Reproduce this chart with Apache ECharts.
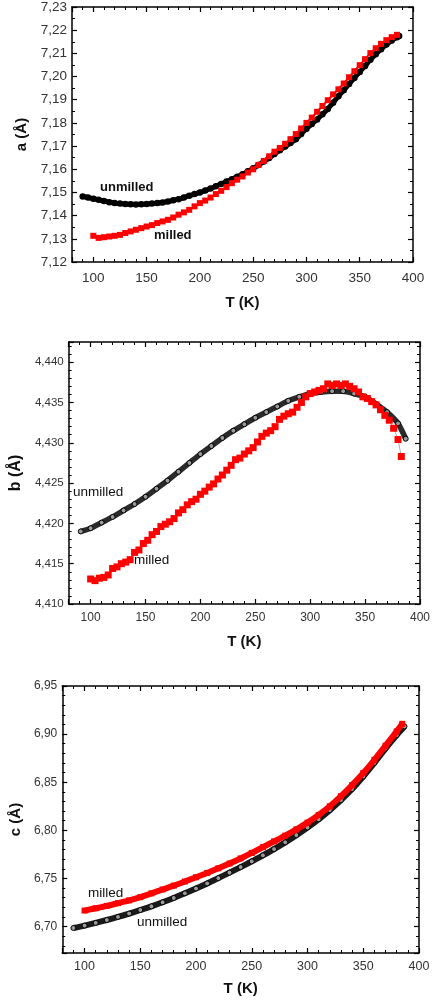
<!DOCTYPE html>
<html>
<head>
<meta charset="utf-8">
<script src="https://cdn.jsdelivr.net/npm/echarts@6/dist/echarts.min.js"></script>
<style>
html,body{margin:0;padding:0;background:#fff;}
#chart{width:433px;height:1000px;}
</style>
</head>
<body>
<div id="chart"></div>
<script>
// ---- Data ----
const T_a_unmilled = [90,95,100,105,110,115,120,125,130,135,140,145,150,155,160,165,170,175,180,185,190,195,200,205,210,215,220,225,230,235,240,245,250,255,260,265,270,275,280,285,290,295,300,305,310,315,320,325,330,335,340,345,350,355,360,365,370,375,380,385,387];
const a_unmilled = [7.1483,7.1478,7.1473,7.1468,7.1463,7.1458,7.1454,7.1452,7.1450,7.1449,7.1448,7.1449,7.1450,7.1452,7.1454,7.1457,7.1461,7.1466,7.1471,7.1478,7.1486,7.1493,7.1500,7.1508,7.1517,7.1527,7.1537,7.1547,7.1557,7.1568,7.1579,7.1591,7.1604,7.1618,7.1633,7.1649,7.1666,7.1682,7.1698,7.1713,7.1729,7.1752,7.1775,7.1795,7.1815,7.1837,7.1860,7.1887,7.1915,7.1941,7.1968,7.1994,7.2020,7.2046,7.2072,7.2096,7.2118,7.2138,7.2155,7.2170,7.2175];

const T_a_milled = [100,105,110,115,120,125,130,135,140,145,150,155,160,165,170,175,180,185,190,195,200,205,210,215,220,225,230,235,240,245,250,255,260,265,270,275,280,285,290,295,300,305,310,315,320,325,330,335,340,345,350,355,360,365,370,375,380,385];
const a_milled = [7.1313,7.1304,7.1307,7.1310,7.1313,7.1317,7.1325,7.1332,7.1339,7.1346,7.1353,7.1359,7.1368,7.1375,7.1382,7.1392,7.1404,7.1414,7.1425,7.1440,7.1454,7.1465,7.1478,7.1493,7.1507,7.1523,7.1540,7.1555,7.1569,7.1586,7.1600,7.1619,7.1636,7.1656,7.1676,7.1692,7.1710,7.1730,7.1752,7.1776,7.1800,7.1823,7.1848,7.1873,7.1898,7.1923,7.1945,7.1970,7.1997,7.2023,7.2049,7.2075,7.2101,7.2122,7.2141,7.2157,7.2170,7.2180];

const T_b_unmilled = [91,100,110,120,130,140,150,160,170,180,190,200,210,220,230,240,250,260,270,280,290,300,310,320,330,340,350,360,370,380,387];
const b_unmilled = [4.4190,4.4194,4.4201,4.4208,4.4216,4.4224,4.4233,4.4243,4.4253,4.4264,4.4275,4.4286,4.4296,4.4306,4.4315,4.4323,4.4331,4.4338,4.4345,4.4352,4.4357,4.4361,4.4363,4.4364,4.4364,4.4361,4.4357,4.4348,4.4338,4.4324,4.4305];

const T_b_milled = [100,104,108,112,116,120,124,128,132,136,140,144,148,152,156,160,164,168,172,176,180,184,188,192,196,200,204,208,212,216,220,224,228,232,236,240,244,248,252,256,260,264,268,272,276,280,284,288,292,296,300,304,308,312,316,320,324,328,332,336,340,344,348,352,356,360,364,368,372,376,380,383];
const b_milled = [4.4131,4.4129,4.4132,4.4133,4.4136,4.4144,4.4146,4.4150,4.4152,4.4155,4.4164,4.4167,4.4175,4.4179,4.4186,4.4190,4.4196,4.4199,4.4202,4.4206,4.4213,4.4217,4.4223,4.4227,4.4230,4.4236,4.4240,4.4245,4.4249,4.4255,4.4260,4.4266,4.4272,4.4279,4.4281,4.4286,4.4290,4.4294,4.4301,4.4308,4.4312,4.4315,4.4320,4.4329,4.4333,4.4336,4.4338,4.4344,4.4350,4.4357,4.4361,4.4363,4.4365,4.4367,4.4373,4.4371,4.4373,4.4371,4.4373,4.4370,4.4367,4.4363,4.4357,4.4355,4.4351,4.4347,4.4341,4.4334,4.4328,4.4318,4.4304,4.4283];

const T_c_unmilled = [90,100,110,120,130,140,150,160,170,180,190,200,210,220,230,240,250,260,270,280,290,300,310,320,330,340,350,360,370,380,387];
const c_unmilled = [6.6985,6.7010,6.7038,6.7068,6.7100,6.7135,6.7172,6.7210,6.7252,6.7297,6.7345,6.7395,6.7448,6.7503,6.7560,6.7618,6.7677,6.7740,6.7805,6.7875,6.7950,6.8030,6.8115,6.8210,6.8315,6.8430,6.8560,6.8700,6.8850,6.8990,6.9080];

const T_c_milled = [100,110,120,130,140,150,160,170,180,190,200,210,220,230,240,250,260,270,280,290,300,310,320,330,340,350,360,370,380,385];
const c_milled = [6.7166,6.7190,6.7215,6.7243,6.7272,6.7305,6.7345,6.7385,6.7425,6.7468,6.7512,6.7557,6.7605,6.7655,6.7708,6.7765,6.7825,6.7885,6.7945,6.8010,6.8080,6.8160,6.8250,6.8355,6.8470,6.8595,6.8733,6.8880,6.9028,6.9107];

const panelNames = ['a (Å)', 'b (Å)', 'c (Å)'];
const xName = 'T (K)';
const labelTexts = ['unmilled', 'milled'];

function pairs(xs, ys){ return xs.map((x,i)=>[x, ys[i]]); }

const FONT = "'Liberation Sans', Arial, sans-serif";
const grids = [
  {left:72, top:7, width:341, height:255},
  {left:62, top:342, width:359, height:262},
  {left:59, top:686, width:360, height:267}
];
const yCfg = [
  {min:7.12, max:7.23, interval:0.01, dec:2, font:13.5, minor:2, gap:39, nameSize:15},
  {min:4.410, max:4.4425, interval:0.005, dec:3, font:11.5, minor:5, gap:41, nameSize:16},
  {min:6.6725, max:6.95, interval:null, dec:2, font:12, minor:5, gap:36, nameSize:15}
];
const xCfg = [
  {font:13.5, gap:33, margin:9},
  {font:12, gap:30, margin:8},
  {font:12.5, gap:28, margin:7}
];

const xAxes = [], yAxes = [];
const lineCol = '#000';
for (let i=0;i<3;i++){
  xAxes.push({
    type:'value', gridIndex:i, position:'bottom', min:80, max:400, splitNumber:6,
    name:xName, nameLocation:'middle', nameGap:xCfg[i].gap,
    nameTextStyle:{fontFamily:FONT, fontWeight:'bold', fontSize:15, color:'#111'},
    axisLine:{show:true, onZero:false, lineStyle:{color:lineCol, width:1.5}},
    axisTick:{show:true, inside:true, length:5, lineStyle:{color:lineCol, width:1.2}},
    minorTick:{show:true, splitNumber:5, length:3, lineStyle:{color:lineCol, width:1}},
    axisLabel:{fontFamily:FONT, fontSize:xCfg[i].font, color:'#333', margin:xCfg[i].margin, showMinLabel:false},
    splitLine:{show:false}
  });
  xAxes.push({
    type:'value', gridIndex:i, position:'top', min:80, max:400, splitNumber:6,
    axisLine:{show:true, onZero:false, lineStyle:{color:lineCol, width:1.5}},
    axisTick:{show:true, inside:true, length:5, lineStyle:{color:lineCol, width:1.2}},
    minorTick:{show:true, splitNumber:5, length:3, lineStyle:{color:lineCol, width:1}},
    axisLabel:{show:false}, splitLine:{show:false}
  });
  const yc = yCfg[i];
  const common = {
    type:'value', gridIndex:i, min:yc.min, max:yc.max,
    axisLine:{show:true, onZero:false, lineStyle:{color:lineCol, width:1.5}},
    axisTick:{show:true, inside:true, length:5, lineStyle:{color:lineCol, width:1.2}},
    minorTick:{show:true, splitNumber:yc.minor, length:3, lineStyle:{color:lineCol, width:1}},
    splitLine:{show:false}
  };
  if (yc.interval) common.interval = yc.interval; else common.splitNumber = 6;
  yAxes.push(Object.assign({}, common, {
    position:'left',
    name:panelNames[i], nameLocation:'middle', nameGap:yc.gap, nameRotate:90,
    nameTextStyle:{fontFamily:FONT, fontWeight:'bold', fontSize:yc.nameSize, color:'#111'},
    axisLabel:{fontFamily:FONT, fontSize:yc.font, color:'#333', margin:5,
      showMinLabel: yc.interval ? true : false, showMaxLabel: i===1 ? false : true,
      formatter:(v)=>v.toFixed(yc.dec).replace('.', ',')}
  }));
  yAxes.push(Object.assign({}, common, {position:'right', axisLabel:{show:false}}));
}

function series(i, name, data, opt){
  return Object.assign({
    type:'line', name:name, xAxisIndex:2*i, yAxisIndex:2*i, data:data,
    animation:false, showAllSymbol:true, z:2
  }, opt);
}

const series_ = [
  series(0,'unmilled', pairs(T_a_unmilled,a_unmilled), {
    smooth:0.3, symbol:'circle', symbolSize:6.5,
    itemStyle:{color:'#000'}, lineStyle:{color:'#000', width:5}}),
  series(0,'milled', pairs(T_a_milled,a_milled), {
    symbol:'rect', symbolSize:6, z:3,
    itemStyle:{color:'#ff0000'}, lineStyle:{color:'#ff0000', width:2}}),
  series(1,'unmilled', pairs(T_b_unmilled,b_unmilled), {
    smooth:0.2, symbol:'circle', symbolSize:5,
    itemStyle:{color:'#999', borderColor:'#000', borderWidth:1}, lineStyle:{color:'#2a2a2a', width:5.5}}),
  series(1,'milled', pairs(T_b_milled,b_milled), {
    symbol:'rect', symbolSize:7, z:3,
    itemStyle:{color:'#ff0000'}, lineStyle:{color:'#999', width:0.8}}),
  series(2,'unmilled', pairs(T_c_unmilled,c_unmilled), {
    smooth:0.3, symbol:'circle', symbolSize:5,
    itemStyle:{color:'#999', borderColor:'#000', borderWidth:1}, lineStyle:{color:'#1a1a1a', width:6}}),
  series(2,'milled', pairs(T_c_milled,c_milled), {
    smooth:0.3, symbol:'rect', symbolSize:6, z:3,
    itemStyle:{color:'#ff0000'}, lineStyle:{color:'#ff0000', width:6}})
];

function txt(left, top, s, size, bold){
  return {type:'text', left:left, top:top, z:10,
    style:{text:s, fontFamily:FONT, fontSize:size, fontWeight:bold?'bold':'normal', fill:'#111'}};
}

const chart = echarts.init(document.getElementById('chart'), null, {renderer:'canvas'});
chart.setOption({
  backgroundColor:'#fff',
  animation:false,
  grid:grids,
  xAxis:xAxes,
  yAxis:yAxes,
  series:series_,
  graphic:[
    txt(100, 181, labelTexts[0], 13, true),
    txt(154, 229, labelTexts[1], 13, true),
    txt(73, 485, labelTexts[0], 13.5, false),
    txt(134, 553, labelTexts[1], 13.5, false),
    txt(88, 886, labelTexts[1], 13.5, false),
    txt(137, 915, labelTexts[0], 13.5, false)
  ]
});
</script>
</body>
</html>
